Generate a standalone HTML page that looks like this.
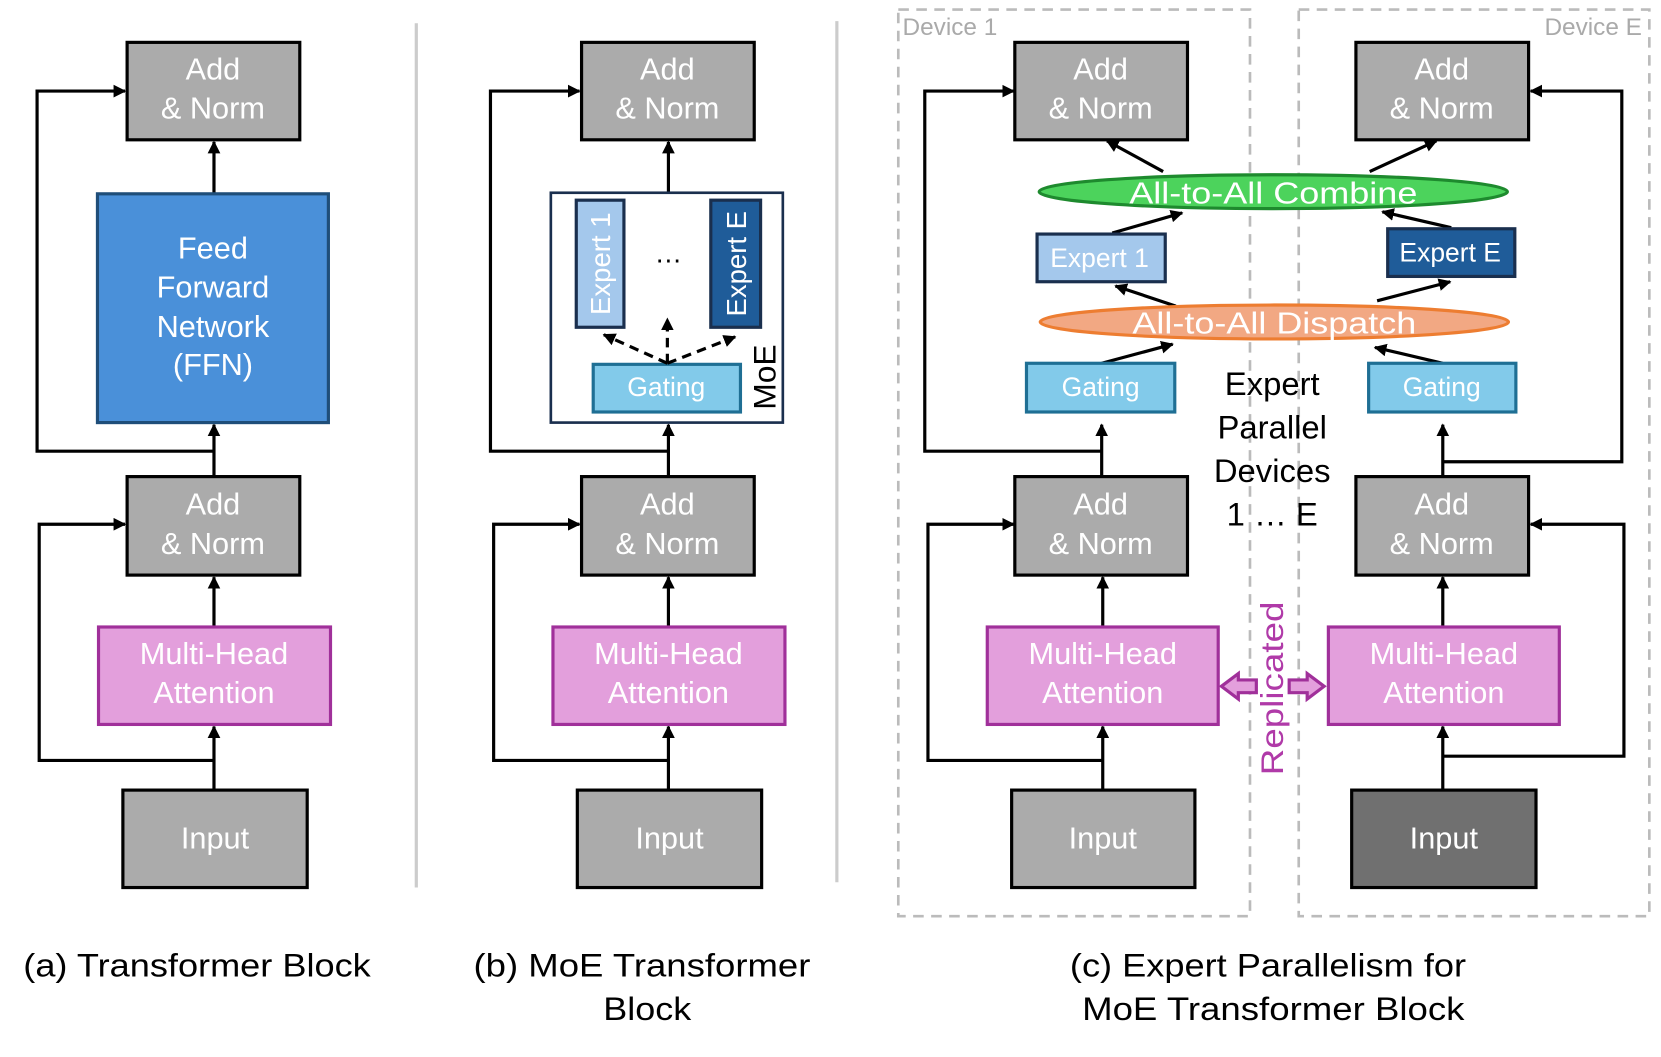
<!DOCTYPE html>
<html><head><meta charset="utf-8"><style>
html,body{margin:0;padding:0;background:#fff;}
svg{display:block;}
text{font-family:"Liberation Sans",sans-serif;}
</style></head><body>
<svg width="1661" height="1057" viewBox="0 0 1568 998" preserveAspectRatio="none" xmlns="http://www.w3.org/2000/svg">
<defs>
<marker id="ar" viewBox="0 0 10 10" refX="9" refY="5" markerWidth="4" markerHeight="4" orient="auto-start-reverse"><path d="M0,0 L10,5 L0,10 z" fill="#000"/></marker>
</defs>
<rect width="1568" height="998" fill="#fff"/>
<line x1="393" y1="22" x2="393" y2="838" stroke="#ccc" stroke-width="3"/>
<line x1="790" y1="20" x2="790" y2="833" stroke="#ccc" stroke-width="3"/>
<rect x="848" y="9" width="332" height="856" fill="none" stroke="#bbb" stroke-width="2.5" stroke-dasharray="10,7"/>
<rect x="1226" y="9" width="331" height="856" fill="none" stroke="#bbb" stroke-width="2.5" stroke-dasharray="10,7"/>
<text x="852" y="33" font-size="23" fill="#aaa">Device 1</text>
<text x="1550" y="33" font-size="23" fill="#aaa" text-anchor="end">Device E</text>

<g stroke="#000" stroke-width="3" fill="none">
<line x1="202" y1="746" x2="202" y2="686" marker-end="url(#ar)"/>
<line x1="202" y1="592" x2="202" y2="545" marker-end="url(#ar)"/>
<line x1="202" y1="450" x2="202" y2="401" marker-end="url(#ar)"/>
<line x1="202" y1="183" x2="202" y2="134" marker-end="url(#ar)"/>
<polyline points="202,718 37,718 37,495 118,495" marker-end="url(#ar)"/>
<polyline points="202,426 35,426 35,86 118,86" marker-end="url(#ar)"/>
<line x1="631" y1="746" x2="631" y2="686" marker-end="url(#ar)"/>
<line x1="631" y1="592" x2="631" y2="545" marker-end="url(#ar)"/>
<line x1="631" y1="450" x2="631" y2="401" marker-end="url(#ar)"/>
<line x1="631" y1="182" x2="631" y2="134" marker-end="url(#ar)"/>
<polyline points="631,718 466,718 466,495 547,495" marker-end="url(#ar)"/>
<polyline points="631,426 463,426 463,86 547,86" marker-end="url(#ar)"/>
<line x1="1041" y1="746" x2="1041" y2="686" marker-end="url(#ar)"/>
<line x1="1041" y1="592" x2="1041" y2="545" marker-end="url(#ar)"/>
<line x1="1040" y1="450" x2="1040" y2="401" marker-end="url(#ar)"/>
<polyline points="1041,718 876,718 876,495 957,495" marker-end="url(#ar)"/>
<polyline points="1040,426 873,426 873,86 957,86" marker-end="url(#ar)"/>
<line x1="1362" y1="746" x2="1362" y2="686" marker-end="url(#ar)"/>
<line x1="1362" y1="592" x2="1362" y2="545" marker-end="url(#ar)"/>
<line x1="1362" y1="450" x2="1362" y2="401" marker-end="url(#ar)"/>
<polyline points="1362,714 1533,714 1533,495 1445,495" marker-end="url(#ar)"/>
<polyline points="1362,436 1531,436 1531,86 1445,86" marker-end="url(#ar)"/>
<line x1="1098" y1="162" x2="1045" y2="133" marker-end="url(#ar)"/>
<line x1="1293" y1="162" x2="1356" y2="133" marker-end="url(#ar)"/>
<line x1="1050" y1="220" x2="1116" y2="201" marker-end="url(#ar)"/>
<line x1="1370" y1="215" x2="1305" y2="200" marker-end="url(#ar)"/>
<line x1="1110" y1="289" x2="1053" y2="270" marker-end="url(#ar)"/>
<line x1="1300" y1="284" x2="1369" y2="266" marker-end="url(#ar)"/>
<line x1="1040" y1="343" x2="1107" y2="325" marker-end="url(#ar)"/>
<line x1="1362" y1="343" x2="1298" y2="328" marker-end="url(#ar)"/>
</g>

<g stroke="#000" stroke-width="3">
<rect x="120" y="40" width="163" height="92" fill="#ababab"/>
<rect x="120" y="450" width="163" height="93" fill="#ababab"/>
<rect x="116" y="746" width="174" height="92" fill="#ababab"/>
<rect x="549" y="40" width="163" height="92" fill="#ababab"/>
<rect x="549" y="450" width="163" height="93" fill="#ababab"/>
<rect x="545" y="746" width="174" height="92" fill="#ababab"/>
<rect x="958" y="40" width="163" height="92" fill="#ababab"/>
<rect x="958" y="450" width="163" height="93" fill="#ababab"/>
<rect x="955" y="746" width="173" height="92" fill="#ababab"/>
<rect x="1280" y="40" width="163" height="92" fill="#ababab"/>
<rect x="1280" y="450" width="163" height="93" fill="#ababab"/>
<rect x="1276" y="746" width="174" height="92" fill="#707070"/>
</g>
<rect x="92" y="183" width="218" height="216" fill="#4a90d9" stroke="#1f4e79" stroke-width="3"/>
<g fill="#e39fdc" stroke="#a0309a" stroke-width="3">
<rect x="93" y="592" width="219" height="92"/>
<rect x="522" y="592" width="219" height="92"/>
<rect x="932" y="592" width="218" height="92"/>
<rect x="1254" y="592" width="218" height="92"/>
<path d="M1186,642 L1169,642 L1169,636 L1153,648 L1169,660 L1169,654 L1186,654 Z"/>
<path d="M1217,642 L1234,642 L1234,636 L1250,648 L1234,660 L1234,654 L1217,654 Z"/>
</g>

<rect x="520" y="182" width="219" height="217" fill="#fff" stroke="#1a2f4e" stroke-width="2.5"/>
<rect x="544" y="189" width="45" height="120" fill="#a4c8ec" stroke="#1a2f4e" stroke-width="3"/>
<rect x="671" y="189" width="47" height="120" fill="#1f5c99" stroke="#1a2f4e" stroke-width="3"/>
<rect x="560" y="344" width="139" height="45" fill="#82caea" stroke="#1f6f94" stroke-width="3"/>
<g stroke="#000" stroke-width="3" fill="none" stroke-dasharray="9,6">
<line x1="630" y1="343" x2="570" y2="316" marker-end="url(#ar)"/>
<line x1="630" y1="343" x2="630" y2="301" marker-end="url(#ar)"/>
<line x1="630" y1="343" x2="694" y2="318" marker-end="url(#ar)"/>
</g>
<text x="631" y="248" font-size="26" text-anchor="middle">…</text>
<text transform="translate(732,356) rotate(-90)" font-size="30" text-anchor="middle">MoE</text>
<text transform="translate(576,249) rotate(-90)" font-size="26" fill="#fff" text-anchor="middle">Expert 1</text>
<text transform="translate(704,249) rotate(-90)" font-size="26" fill="#fff" text-anchor="middle">Expert E</text>

<ellipse cx="1202" cy="181" rx="221" ry="16" fill="#4cd35c" stroke="#1e8a2e" stroke-width="3"/>
<ellipse cx="1203" cy="304" rx="221" ry="16" fill="#f2a883" stroke="#ed7d31" stroke-width="3"/>
<rect x="979" y="221" width="121" height="45" fill="#a4c8ec" stroke="#1a2f4e" stroke-width="3"/>
<rect x="1310" y="216" width="120" height="45" fill="#1f5c99" stroke="#1a2f4e" stroke-width="3"/>
<rect x="969" y="343" width="140" height="46" fill="#82caea" stroke="#1f6f94" stroke-width="3"/>
<rect x="1292" y="343" width="139" height="46" fill="#82caea" stroke="#1f6f94" stroke-width="3"/>

<g fill="#fff" font-size="29" text-anchor="middle">
<text x="201" y="75">Add</text><text x="201" y="112">&amp; Norm</text>
<text x="201" y="486">Add</text><text x="201" y="523">&amp; Norm</text>
<text x="203" y="801">Input</text>
<text x="201" y="244">Feed</text><text x="201" y="281">Forward</text><text x="201" y="318">Network</text><text x="201" y="354">(FFN)</text>
<text x="202" y="627">Multi-Head</text><text x="202" y="664">Attention</text>
<text x="630" y="75">Add</text><text x="630" y="112">&amp; Norm</text>
<text x="630" y="486">Add</text><text x="630" y="523">&amp; Norm</text>
<text x="632" y="801">Input</text>
<text x="631" y="627">Multi-Head</text><text x="631" y="664">Attention</text>
<text x="1039" y="75">Add</text><text x="1039" y="112">&amp; Norm</text>
<text x="1039" y="486">Add</text><text x="1039" y="523">&amp; Norm</text>
<text x="1041" y="801">Input</text>
<text x="1041" y="627">Multi-Head</text><text x="1041" y="664">Attention</text>
<text x="1361" y="75">Add</text><text x="1361" y="112">&amp; Norm</text>
<text x="1361" y="486">Add</text><text x="1361" y="523">&amp; Norm</text>
<text x="1363" y="801">Input</text>
<text x="1363" y="627">Multi-Head</text><text x="1363" y="664">Attention</text>
</g>
<g fill="#fff" font-size="25" text-anchor="middle">
<text x="629" y="374">Gating</text>
<text x="1039" y="374">Gating</text>
<text x="1361" y="374">Gating</text>
<text x="1038" y="252">Expert 1</text>
<text x="1369" y="247">Expert E</text>
</g>
<g fill="#fff" font-size="29" text-anchor="middle">
<text x="1202" y="192" textLength="272" lengthAdjust="spacingAndGlyphs">All-to-All Combine</text>
<text x="1203" y="315" textLength="268" lengthAdjust="spacingAndGlyphs">All-to-All Dispatch</text>
</g>
<g font-size="31" text-anchor="middle" fill="#000">
<text x="1201" y="373">Expert</text>
<text x="1201" y="414">Parallel</text>
<text x="1201" y="455">Devices</text>
<text x="1201" y="496">1 … E</text>
</g>
<text transform="translate(1211,650) rotate(-90)" font-size="30" fill="#b03aa8" text-anchor="middle" textLength="164" lengthAdjust="spacingAndGlyphs">Replicated</text>

<g font-size="31" text-anchor="middle" fill="#000" lengthAdjust="spacingAndGlyphs">
<text x="186" y="922" textLength="328" lengthAdjust="spacingAndGlyphs">(a) Transformer Block</text>
<text x="606" y="922" textLength="318" lengthAdjust="spacingAndGlyphs">(b) MoE Transformer</text>
<text x="611" y="963" textLength="83" lengthAdjust="spacingAndGlyphs">Block</text>
<text x="1197" y="922" textLength="374" lengthAdjust="spacingAndGlyphs">(c) Expert Parallelism for</text>
<text x="1202" y="963" textLength="361" lengthAdjust="spacingAndGlyphs">MoE Transformer Block</text>
</g>
</svg>
</body></html>
